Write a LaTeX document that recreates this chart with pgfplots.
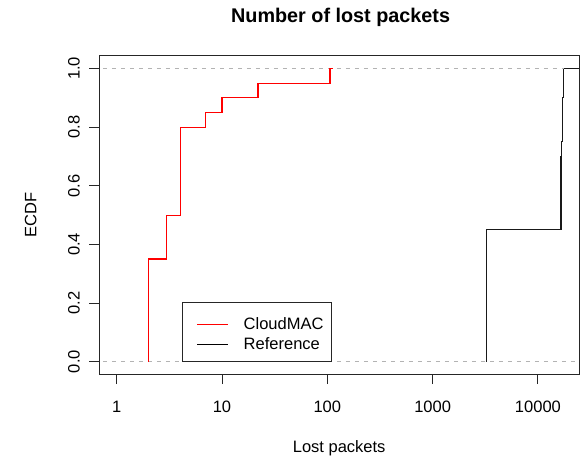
\documentclass[border=0pt]{standalone}
\usepackage{fontspec}
\setmainfont{Liberation Sans}
\usepackage{pgfplots}
\pgfplotsset{compat=1.18}
\definecolor{grayseventy}{RGB}{179,179,179}
\newcommand{\basefont}{\fontsize{16.5}{19.8}\selectfont}
\begin{document}
\basefont
\begin{tikzpicture}
\path[use as bounding box] (0,0) rectangle (582pt,456pt);
\begin{axis}[
  at={(99.3pt,81.8pt)}, anchor=south west,
  scale only axis, width=479.7pt, height=318.3pt,
  xmode=log, xmin=0.684, xmax=24550, ymin=-0.043, ymax=1.043,
  axis line style={black!85, line width=0.9pt},
  xtick={1,10,100,1000,10000}, xticklabels={1,10,100,1000,10000},
  ytick={0,0.2,0.4,0.6,0.8,1.0}, yticklabels={0.0,0.2,0.4,0.6,0.8,1.0},
  xminorticks=false, yminorticks=false,
  xtick pos=left, ytick pos=left,
  tick align=outside, major tick length=10pt,
  tick style={black!85, line width=0.9pt},
  xticklabel style={anchor=base, inner sep=0pt, yshift=-28.5pt, font=\basefont},
  yticklabel style={xshift=-9.3pt, rotate=90, anchor=south, inner sep=0pt, font=\basefont},
  every axis title shift=0pt,
  title={Number of lost packets},
  title style={at={(axis description cs:0.503,1.1043)}, anchor=base, inner sep=0pt, font=\fontsize{19.8}{24}\selectfont\bfseries},
  xlabel={Lost packets},
  xlabel style={at={(axis description cs:0.5,-0.2454)}, anchor=base, inner sep=0pt, font=\basefont},
  ylabel={ECDF},
  ylabel style={at={(axis description cs:-0.1305,0.5)}, anchor=south, inner sep=0pt, font=\basefont},
  legend style={at={(axis description cs:0.1724,0.0383)}, anchor=south west, draw=black!85, line width=0.9pt, fill=white, inner xsep=8pt, inner ysep=8.3pt, row sep=-2.4pt, nodes={inner sep=0pt, text height=18.4pt, text depth=4pt, font=\basefont}, /tikz/every odd column/.append style={column sep=15pt}},
  legend cell align=left,
  legend image code/.code={\path (0pt,0pt); \draw[#1] (6.2pt,-2.1pt) -- (37.2pt,-2.1pt);},
]
\addlegendimage{red, line width=1.1pt}
\addlegendentry{CloudMAC}
\addlegendimage{black, line width=1.1pt}
\addlegendentry{Reference}
% Reference ECDF
\addplot[black!90, line width=1.1pt, forget plot] coordinates {
 (3260,0) (3260,0.45) (16570,0.45) (16570,0.7) (16830,0.7) (16830,0.75)
 (16980,0.75) (16980,0.8) (17130,0.8) (17130,0.85) (17280,0.85) (17280,0.9)
 (17430,0.9) (17430,0.95) (17580,0.95) (17580,1.0) (30000,1.0)
};
% gray reference lines at 0 and 1
\addplot[grayseventy, line width=0.9pt, dash pattern=on 4.5pt off 4.5pt, forget plot] coordinates {(0.5,0) (30000,0)};
\addplot[grayseventy, line width=0.9pt, dash pattern=on 4.5pt off 4.5pt, forget plot] coordinates {(0.5,1) (17500,1)};
% CloudMAC ECDF
\addplot[red, line width=1.1pt, forget plot] coordinates {
 (2,0) (2,0.35) (3,0.35) (3,0.5) (4,0.5) (4,0.8) (7,0.8) (7,0.85)
 (10,0.85) (10,0.9) (22,0.9) (22,0.95) (106,0.95) (106,1.0) (113,1.0)
};
\end{axis}
\end{tikzpicture}
\end{document}
